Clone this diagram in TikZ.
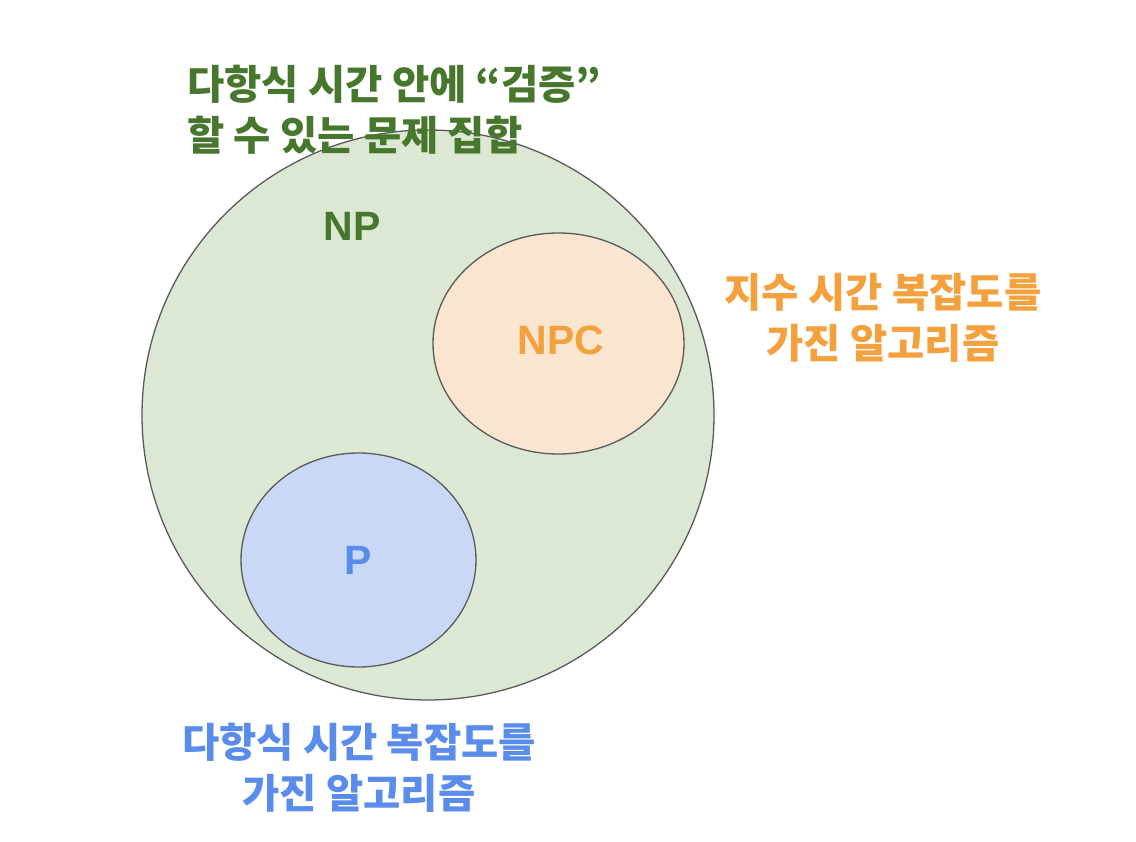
\documentclass[tikz,border=0pt]{standalone}
\usepackage{fontspec}
\setmainfont{Liberation Sans}
\newfontfamily\kr{Noto Sans CJK KR}
\usetikzlibrary{shapes.geometric}
\definecolor{npfill}{HTML}{DCE8D4}
\definecolor{npcfill}{HTML}{F9E5D0}
\definecolor{pfill}{HTML}{C9D9F5}
\definecolor{edge}{HTML}{5A5A5A}
\definecolor{gtext}{HTML}{47762D}
\definecolor{otext}{HTML}{F4A03C}
\definecolor{btext}{HTML}{5A8CEC}
\tikzset{
  setshape/.style={ellipse, draw=edge, line width=1.3pt, inner sep=0pt},
  latinlabel/.style={font=\fontsize{41}{41}\selectfont\bfseries, inner sep=0pt},
  krlabel/.style={font=\kr\bfseries\fontsize{40.5}{51}\selectfont, inner sep=0pt},
}
\begin{document}
\begin{tikzpicture}[x=1pt,y=-1pt]
\useasboundingbox (0,0) rectangle (1136,842);
\node[setshape, fill=npfill, minimum width=572pt, minimum height=570pt] (np) at (428,415) {};
\node[setshape, fill=npcfill, minimum width=251pt, minimum height=221pt] (npc) at (558.5,343.5) {};
\node[setshape, fill=pfill, minimum width=235pt, minimum height=214pt] (p) at (358.5,560) {};
\node[latinlabel, text=gtext] (nplabel) at (352,226) {NP};
\node[latinlabel, text=otext] (npclabel) at (561,340) {NPC};
\node[latinlabel, text=btext] (plabel) at (358,560) {P};
\node[krlabel, text=gtext, align=left, anchor=west] (npdesc) at (187,110) {다항식 시간 안에 “검증”\\할 수 있는 문제 집합};
\node[krlabel, text=otext, align=center] (npcdesc) at (883,318) {지수 시간 복잡도를\\가진 알고리즘};
\node[krlabel, text=btext, align=center] (pdesc) at (359,768) {다항식 시간 복잡도를\\가진 알고리즘};
\end{tikzpicture}
\end{document}
